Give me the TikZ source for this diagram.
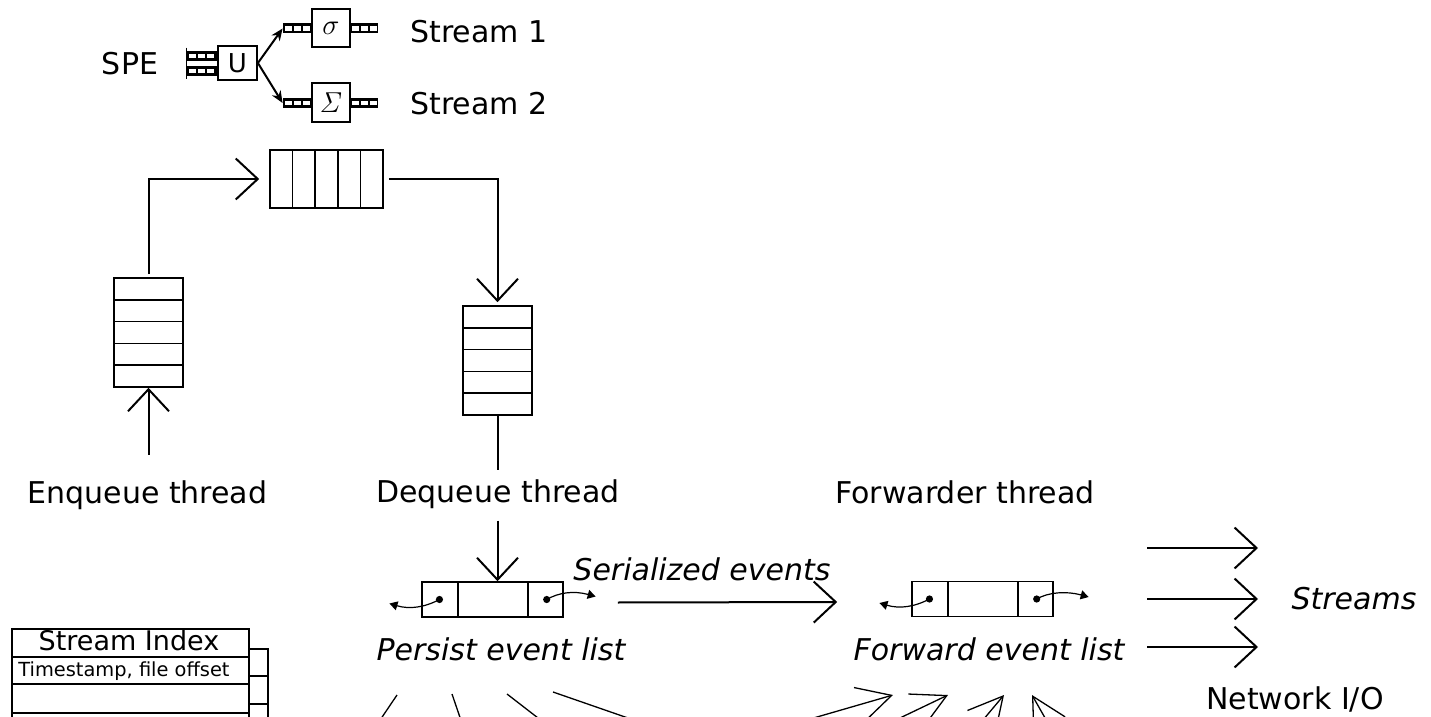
\documentclass[tikz,border=0pt]{standalone}
\usepackage[no-math]{fontspec}
\setmainfont{DejaVu Sans}
\usetikzlibrary{arrows.meta,calc}
\begin{document}
\begin{tikzpicture}[x=0.5pt,y=-0.5pt,
  lbl/.style={font=\fontsize{15}{18}\selectfont, anchor=base, inner sep=0pt},
  ilbl/.style={font=\fontsize{15}{18}\selectfont\itshape, anchor=base, inner sep=0pt},
  conn/.style={line width=1pt},
  bigarrow/.style={conn, -{Straight Barb[length=11pt,width=20.5pt,line width=1pt]}},
  thinarrow/.style={line width=0.65pt, -{Straight Barb[length=17pt,width=18pt,line width=0.65pt]}},
  thinline/.style={line width=0.65pt},
  spearrow/.style={line width=1pt, -{Stealth[length=6pt,width=5pt]}},
  curvy/.style={line width=0.6pt, -{Triangle[length=4pt,width=4.5pt]}},
  box/.style={draw, line width=0.8pt, inner sep=0pt},
  opbox/.style={draw, line width=0.9pt, inner sep=0pt, font=\fontsize{13}{15}\selectfont},
  hq/.style={box, path picture={\foreach \k in {1,2,3,4}{\draw[line width=0.8pt]
     ($(path picture bounding box.north west)!\k/5!(path picture bounding box.north east)$) --
     ($(path picture bounding box.south west)!\k/5!(path picture bounding box.south east)$);}}},
  vq/.style={box, path picture={\foreach \k in {1,2,3,4}{\draw[line width=0.8pt]
     ($(path picture bounding box.north west)!\k/5!(path picture bounding box.south west)$) --
     ($(path picture bounding box.north east)!\k/5!(path picture bounding box.south east)$);}}},
  lst/.style={box, minimum width=70.5pt, minimum height=17.5pt, path picture={\foreach \k in {0.255,0.75}{\draw[line width=0.8pt]
     ($(path picture bounding box.north west)!\k!(path picture bounding box.north east)$) --
     ($(path picture bounding box.south west)!\k!(path picture bounding box.south east)$);}}},
  mq/.style={fill=black, inner sep=0pt, minimum height=5pt, path picture={\foreach \k in {0,1,2}{\fill[white]
     ($(path picture bounding box.south west)+(1.2pt+\k*4.45pt,1.3pt)$) rectangle +(3.25pt,2.4pt);}}},
  dotc/.style={circle, fill=black, inner sep=0pt, minimum size=3.6pt},
]
\useasboundingbox (0,0) rectangle (1431,717);
\clip (0,0) rectangle (1431,717);

% ---------- SPE ----------
\node[lbl] (spe) at (130,75) {SPE};
\node[opbox, minimum width=19.5pt, minimum height=17pt] (U) at (237.5,63) {U};
\node[mq, minimum width=15pt] (qu1) at (202,56) {};
\node[mq, minimum width=15pt] (qu2) at (202,71) {};
\draw[line width=0.6pt] (qu1.north west) ++(0,-3) -- ($(qu2.south west)+(0,3)$);
\node[opbox, minimum width=19pt, minimum height=19pt, font=\fontsize{15}{17}\selectfont] (sig) at (331,28) {$\sigma$};
\node[mq, minimum width=14.5pt] (qs1l) at (297.5,28.5) {};
\node[mq, minimum width=14pt] (qs1r) at (364,28.5) {};
\node[opbox, minimum width=19pt, minimum height=19.5pt, font=\fontsize{14}{16}\selectfont] (Sig) at (331,102.5) {$\mathit{\Sigma}$};
\node[mq, minimum width=14.5pt] (qs2l) at (297.5,103) {};
\node[mq, minimum width=14pt] (qs2r) at (364,103) {};
\draw[spearrow] (U.east) -- (qs1l.west);
\draw[spearrow] (U.east) -- (qs2l.west);
\node[lbl] (st1) at (479,43) {Stream 1};
\node[lbl] (st2) at (479,115) {Stream 2};

% ---------- queues ----------
\node[hq, minimum width=56.5pt, minimum height=29pt] (topq) at (326.5,179) {};
\node[vq, minimum width=34.5pt, minimum height=54.5pt] (leftq) at (148.5,332.5) {};
\node[vq, minimum width=34.5pt, minimum height=54.5pt] (rightq) at (497.5,360.5) {};

\node[lbl] (enq) at (147.5,503) {Enqueue thread};
\node[lbl] (deq) at (498,502) {Dequeue thread};
\node[lbl] (fwd) at (965,503) {Forwarder thread};

\draw[bigarrow] ([yshift=1.5pt]leftq.north) |- ([xshift=-5pt]topq.west);
\draw[bigarrow] ([xshift=2.5pt]topq.east) -| ([yshift=1.5pt]rightq.north);
\draw[bigarrow] ([yshift=12.5pt]enq.north -| leftq.south) -- (leftq.south);
\draw[conn] (rightq.south) -- ([yshift=4.5pt]deq.north -| rightq.south);

% ---------- event lists ----------
\node[lst] (plist) at (492.5,599.5) {};
\node[lst] (flist) at (982.5,599) {};
\draw[bigarrow] ([yshift=-6pt]deq.south -| rightq.south) -- (rightq.south |- plist.north);

\node[dotc] (pd1) at ($(plist.west)!0.128!(plist.east)$) {};
\node[dotc] (pd2) at ($(plist.west)!0.88!(plist.east)$) {};
\node[dotc] (fd1) at ($(flist.west)!0.128!(flist.east)$) {};
\node[dotc] (fd2) at ($(flist.west)!0.88!(flist.east)$) {};
\coordinate (pe1) at ($(pd1)+(-50,4)$);
\coordinate (pe2) at ($(pd2)+(49,-3)$);
\coordinate (fe1) at ($(fd1)+(-50,4)$);
\coordinate (fe2) at ($(fd2)+(52,-2)$);
\draw[curvy] (pd1.center) .. controls +(-15,8) and +(20,6) .. (pe1);
\draw[curvy] (pd2.center) .. controls +(12,-7) and +(-22,-6) .. (pe2);
\draw[curvy] (fd1.center) .. controls +(-15,8) and +(20,6) .. (fe1);
\draw[curvy] (fd2.center) .. controls +(12,-7) and +(-22,-6) .. (fe2);

\node[ilbl] (ser) at (702,580) {Serialized events};
\node[ilbl] (plab) at (501,660) {Persist event list};
\node[ilbl] (flab) at (989,660) {Forward event list};
\draw[bigarrow] ([xshift=27pt,yshift=-1.5pt]plist.east) -- ([xshift=-37pt,yshift=-1.5pt]flist.west);

% ---------- streams ----------
\foreach \i/\y in {1/548,2/599,3/647}{
  \coordinate (sa\i) at (1147,\y);
  \coordinate (sb\i) at (1258,\y);
  \draw[bigarrow] (sa\i) -- (sb\i);
}
\node[ilbl] (streams) at (1354,609) {Streams};
\node[lbl] (net) at (1295,709) {Network I/O};

% ---------- stream index ----------
\node[box, anchor=north west, minimum width=118.5pt, minimum height=14pt] (sih) at (11,628) {};
\node[font=\fontsize{13.5}{16}\selectfont, anchor=base, inner sep=0pt] (sit) at (129,650) {Stream Index};
\node[box, anchor=north west, minimum width=118.5pt, minimum height=13.5pt] (sir1) at (11,656) {};
\node[font=\fontsize{9.7}{11}\selectfont, anchor=base, inner sep=0pt] (sit2) at (124,676) {Timestamp, file offset};
\node[box, anchor=north west, minimum width=118.5pt, minimum height=14.5pt] (sir2) at (11,683) {};
\node[box, anchor=north west, minimum width=118.5pt, minimum height=14pt] (sir3) at (11,712) {};
\node[box, anchor=north west, minimum width=9.5pt, minimum height=13.5pt] (sic1) at (248,648) {};
\node[box, anchor=north west, minimum width=9.5pt, minimum height=14pt] (sic2) at (248,675) {};
\node[box, anchor=north west, minimum width=9.5pt, minimum height=14pt] (sic3) at (248,703) {};

% ---------- bottom lines ----------
\foreach \i/\ax/\ay/\bx/\by in {1/397/695/370/735, 2/452/694/466/735, 3/507/694/560/735, 4/553/692/677/735}{
  \coordinate (la\i) at (\ax,\ay);
  \coordinate (lb\i) at (\bx,\by);
  \draw[thinline] (la\i) -- (lb\i);
}
\foreach \i/\ax/\ay/\bx/\by in {1/741/739/893/695, 2/856/739/948/695, 3/967/739/1004/695, 4/1057/739/1032/695}{
  \coordinate (ra\i) at (\ax,\ay);
  \coordinate (rb\i) at (\bx,\by);
  \draw[thinarrow] (ra\i) -- (rb\i);
}
\end{tikzpicture}
\end{document}
